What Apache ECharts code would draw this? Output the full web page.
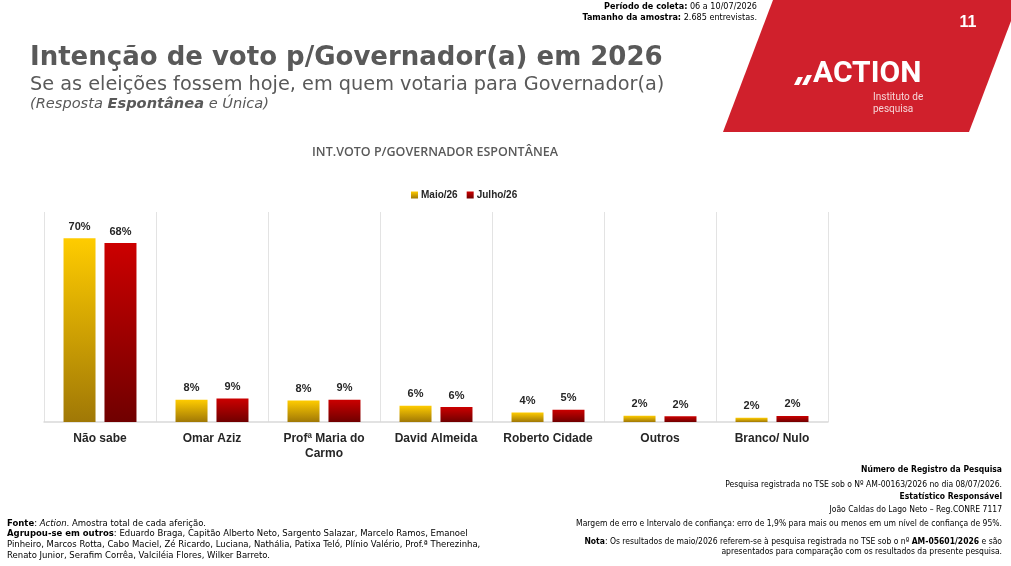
<!DOCTYPE html>
<html><head><meta charset="utf-8">
<script src="https://cdn.jsdelivr.net/npm/echarts@6/dist/echarts.min.js"></script>
<style>html,body{margin:0;padding:0;background:#fff}#c{width:1011px;height:566px}</style>
</head><body><div id="c"></div>
<script>
const categories = ['Não sabe', 'Omar Aziz', 'Profª Maria do\nCarmo', 'David Almeida', 'Roberto Cidade', 'Outros', 'Branco/ Nulo'];
const seriesNames = ['Maio/26', 'Julho/26'];
const maio = [70, 8.5, 8.2, 6.2, 3.6, 2.4, 1.6];
const julho = [68.2, 9.0, 8.5, 5.7, 4.7, 2.2, 2.3];
const maioLabels = ['70%', '8%', '8%', '6%', '4%', '2%', '2%'];
const julhoLabels = ['68%', '9%', '9%', '6%', '5%', '2%', '2%'];

const narrow = "'Liberation Sans Narrow','DejaVu Sans Condensed','Arial Narrow',sans-serif";
const chart = echarts.init(document.getElementById('c'), null, {renderer: 'canvas'});
const grad = (a, b) => new echarts.graphic.LinearGradient(0, 0, 0, 1, [{offset: 0, color: a}, {offset: 1, color: b}]);
const labelStyle = arr => ({
  show: true, position: 'top', distance: 6,
  fontFamily: 'Liberation Sans, Arial, sans-serif', fontWeight: 'bold', fontSize: 11, color: '#262626',
  formatter: p => arr[p.dataIndex]
});

chart.setOption({
  animation: false,
  grid: {left: 44, right: 183, top: 212, bottom: 144},
  legend: {
    left: 406, top: 185, itemWidth: 7, itemHeight: 7, itemGap: 9, icon: 'rect',
    textStyle: {fontFamily: 'Liberation Sans, Arial, sans-serif', fontWeight: 'bold', fontSize: 10, color: '#262626', padding: [0, 0, 0, -2]},
    data: seriesNames
  },
  xAxis: {
    type: 'category', data: categories,
    axisLine: {lineStyle: {color: '#d9d9d9', width: 1.5}},
    axisTick: {show: false},
    splitLine: {show: true, lineStyle: {color: '#e3e3e3', width: 1}},
    axisLabel: {interval: 0, margin: 9, fontFamily: 'Liberation Sans, Arial, sans-serif', fontWeight: 'bold', fontSize: 12, color: '#262626', lineHeight: 15}
  },
  yAxis: {type: 'value', min: 0, max: 80, show: false, splitLine: {show: false}},
  series: [
    {name: seriesNames[0], type: 'bar', data: maio, barWidth: 32, barGap: '28%',
     itemStyle: {color: grad('#FFCC00', '#A07806')}, label: labelStyle(maioLabels)},
    {name: seriesNames[1], type: 'bar', data: julho, barWidth: 32,
     itemStyle: {color: grad('#CC0000', '#700000')}, label: labelStyle(julhoLabels)}
  ],
  graphic: [
    {type: 'polygon', shape: {points: [[773, 0], [1019, 0], [969, 132], [723, 132]]}, style: {fill: '#D0202C'}, silent: true},
    {type: 'text', x: 968, y: 23, style: {text: '11', fill: '#fff', font: 'bold 16px Liberation Sans, Arial, sans-serif', textAlign: 'center', textVerticalAlign: 'middle'}},
    {type: 'polygon', shape: {points: [[794, 85], [799, 85], [803, 77], [798, 77]]}, style: {fill: '#fff'}},
    {type: 'polygon', shape: {points: [[802, 85], [807, 85], [812, 75], [807, 75]]}, style: {fill: '#fff'}},
    {type: 'text', x: 813, y: 74, style: {text: 'ACTION', fill: '#fff', font: 'bold 30px Roboto, Liberation Sans, sans-serif', textAlign: 'left', textVerticalAlign: 'middle'}},
    {type: 'text', x: 873, y: 97, style: {text: 'Instituto de', fill: '#f6d5d7', font: '10px Roboto, sans-serif', textVerticalAlign: 'middle'}},
    {type: 'text', x: 873, y: 109, style: {text: 'pesquisa', fill: '#f6d5d7', font: '10px Roboto, sans-serif', textVerticalAlign: 'middle'}},

    {type: 'text', x: 757, y: 7, style: {
      text: '{b|Período de coleta:} 06 a 10/07/2026', textAlign: 'right', textVerticalAlign: 'middle',
      font: '9px ' + narrow, fill: '#000', rich: {b: {fontWeight: 'bold', fontSize: 9, fontFamily: narrow}}}},
    {type: 'text', x: 757, y: 18, style: {
      text: '{b|Tamanho da amostra:} 2.685 entrevistas.', textAlign: 'right', textVerticalAlign: 'middle',
      font: '9px ' + narrow, fill: '#000', rich: {b: {fontWeight: 'bold', fontSize: 9, fontFamily: narrow}}}},

    {type: 'text', x: 30, y: 58, style: {text: 'Intenção de voto p/Governador(a) em 2026', fill: '#595959', font: 'bold 26px DejaVu Sans, sans-serif', textVerticalAlign: 'middle'}},
    {type: 'text', x: 30, y: 85, style: {text: 'Se as eleições fossem hoje, em quem votaria para Governador(a)', fill: '#595959', font: '19.3px DejaVu Sans, sans-serif', textVerticalAlign: 'middle'}},
    {type: 'text', x: 30, y: 104, style: {
      text: '(Resposta {b|Espontânea} e Única)', fill: '#595959', font: 'italic 14.6px DejaVu Sans, sans-serif', textVerticalAlign: 'middle',
      rich: {b: {fontWeight: 'bold', fontStyle: 'italic', fontSize: 14.6, fontFamily: 'DejaVu Sans, sans-serif', fill: '#595959'}}}},

    {type: 'text', x: 435, y: 152, style: {text: 'INT.VOTO P/GOVERNADOR ESPONTÂNEA', fill: '#595959', font: '600 12.5px Open Sans, sans-serif', textAlign: 'center', textVerticalAlign: 'middle'}},

    {type: 'text', x: 7, y: 518, style: {
      text: '{b|Fonte}: {i|Action}. Amostra total de cada aferição.\n{b|Agrupou-se em outros}: Eduardo Braga, Capitão Alberto Neto, Sargento Salazar, Marcelo Ramos, Emanoel\nPinheiro, Marcos Rotta, Cabo Maciel, Zé Ricardo, Luciana, Nathália, Patixa Teló, Plínio Valério, Prof.ª Therezinha,\nRenato Junior, Serafim Corrêa, Valciléia Flores, Wilker Barreto.',
      font: '8.5px DejaVu Sans, sans-serif', fill: '#000', lineHeight: 10.8,
      rich: {b: {fontWeight: 'bold', fontSize: 8.5, fontFamily: 'DejaVu Sans, sans-serif', lineHeight: 10.8},
             i: {fontStyle: 'italic', fontSize: 8.5, fontFamily: 'DejaVu Sans, sans-serif', lineHeight: 10.8}}}},

    {type: 'text', x: 1002, y: 470, style: {text: 'Número de Registro da Pesquisa', font: 'bold 8.5px ' + narrow, fill: '#000', textAlign: 'right', textVerticalAlign: 'middle'}},
    {type: 'text', x: 1002, y: 485, style: {text: 'Pesquisa registrada no TSE sob o Nº AM-00163/2026 no dia 08/07/2026.', font: '8.5px ' + narrow, fill: '#000', textAlign: 'right', textVerticalAlign: 'middle'}},
    {type: 'text', x: 1002, y: 497, style: {text: 'Estatístico Responsável', font: 'bold 8.5px ' + narrow, fill: '#000', textAlign: 'right', textVerticalAlign: 'middle'}},
    {type: 'text', x: 1002, y: 510, style: {text: 'João Caldas do Lago Neto – Reg.CONRE 7117', font: '8.5px ' + narrow, fill: '#000', textAlign: 'right', textVerticalAlign: 'middle'}},
    {type: 'text', x: 1002, y: 524, style: {text: 'Margem de erro e Intervalo de confiança: erro de 1,9% para mais ou menos em um nível de confiança de 95%.', font: '8.5px ' + narrow, fill: '#000', textAlign: 'right', textVerticalAlign: 'middle'}},
    {type: 'text', x: 1002, y: 542, style: {
      text: '{b|Nota}: Os resultados de maio/2026 referem-se à pesquisa registrada no TSE sob o nº {b|AM-05601/2026} e são', font: '8.5px ' + narrow, fill: '#000', textAlign: 'right', textVerticalAlign: 'middle',
      rich: {b: {fontWeight: 'bold', fontSize: 8.5, fontFamily: narrow}}}},
    {type: 'text', x: 1002, y: 552, style: {text: 'apresentados para comparação com os resultados da presente pesquisa.', font: '8.5px ' + narrow, fill: '#000', textAlign: 'right', textVerticalAlign: 'middle'}}
  ]
});
</script></body></html>
